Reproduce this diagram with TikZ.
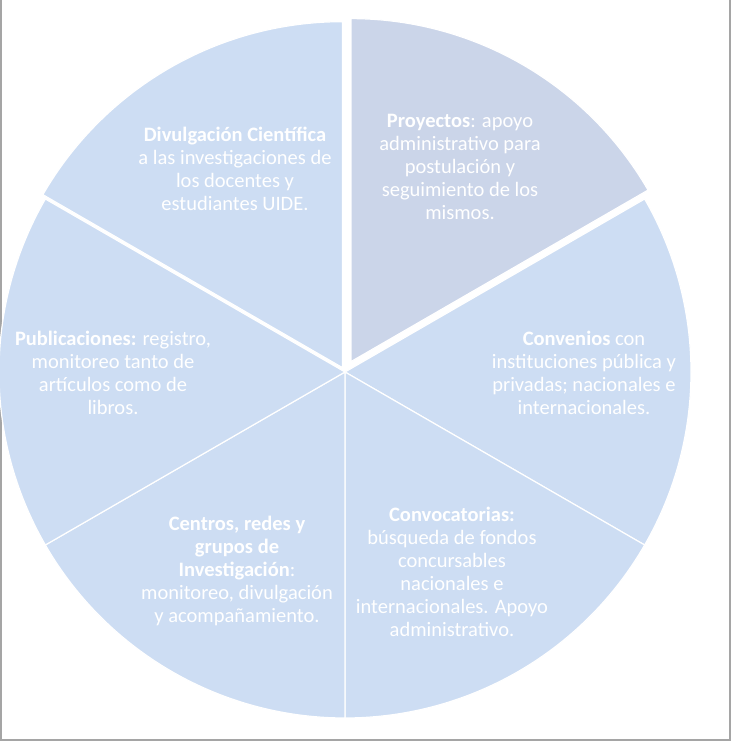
\documentclass[tikz,border=0pt]{standalone}
\usepackage{fontspec}
\setmainfont{Carlito}
\usepackage{tikz}
\usetikzlibrary{calc}
\definecolor{azul}{RGB}{205,221,243}
\definecolor{azulgris}{RGB}{203,213,233}
\definecolor{marco}{RGB}{165,165,165}

\begin{document}
\begin{tikzpicture}[x=1pt, y=1pt,
	texto/.style={text=white, align=center, inner sep=0pt, font=\fontsize{20.5}{23}\selectfont},
	sector/.style={fill=azul, draw=white, line width=1.2pt, line join=round}]
	
	\useasboundingbox (0,0) rectangle (731,741);
	\coordinate (c) at (345,369);
	
	% Marco
	\draw[marco, line width=1.5pt] (1,741) -- (1,1) -- (730,1) -- (730,741);
	
	% Sectores
	\draw[sector] (c) -- ++(-30:346) arc[start angle=-30, end angle=30, radius=346] -- cycle;
	\draw[sector] (c) -- ++(-90:346) arc[start angle=-90, end angle=-30, radius=346] -- cycle;
	\draw[sector] (c) -- ++(210:346) arc[start angle=210, end angle=270, radius=346] -- cycle;
	\draw[sector] (c) -- ++(150:346) arc[start angle=150, end angle=210, radius=346] -- cycle;
	
	% Sectores separados
	\draw[sector] ($(c)+(120:5)$) -- ++(90:346) arc[start angle=90, end angle=150, radius=346] -- cycle;
	\draw[sector, fill=azulgris] ($(c)+(60:12)$) -- ++(30:343) arc[start angle=30, end angle=90, radius=343] -- cycle;
	
	% Textos
	\node[texto] (divulgacion) at (235,572) {\textbf{Divulgación Científica}\\a las investigaciones de\\los docentes y\\estudiantes UIDE.};
	\node[texto] (proyectos) at (460,574) {\textbf{Proyectos}: apoyo\\administrativo para\\postulación y\\seguimiento de los\\mismos.};
	\node[texto] (convenios) at (584,368) {\textbf{Convenios} con\\instituciones pública y\\privadas; nacionales e\\internacionales.};
	\node[texto] (publicaciones) at (113,368) {\textbf{Publicaciones:} registro,\\monitoreo tanto de\\artículos como de\\libros.};
	\node[texto] (centros) at (237,170) {\textbf{Centros, redes y}\\\textbf{grupos de}\\\textbf{Investigación}:\\monitoreo, divulgación\\y acompañamiento.};
	\node[texto] (convocatorias) at (452,169) {\textbf{Convocatorias:}\\búsqueda de fondos\\concursables\\nacionales e\\internacionales. Apoyo\\administrativo.};
	
\end{tikzpicture}
\end{document}
